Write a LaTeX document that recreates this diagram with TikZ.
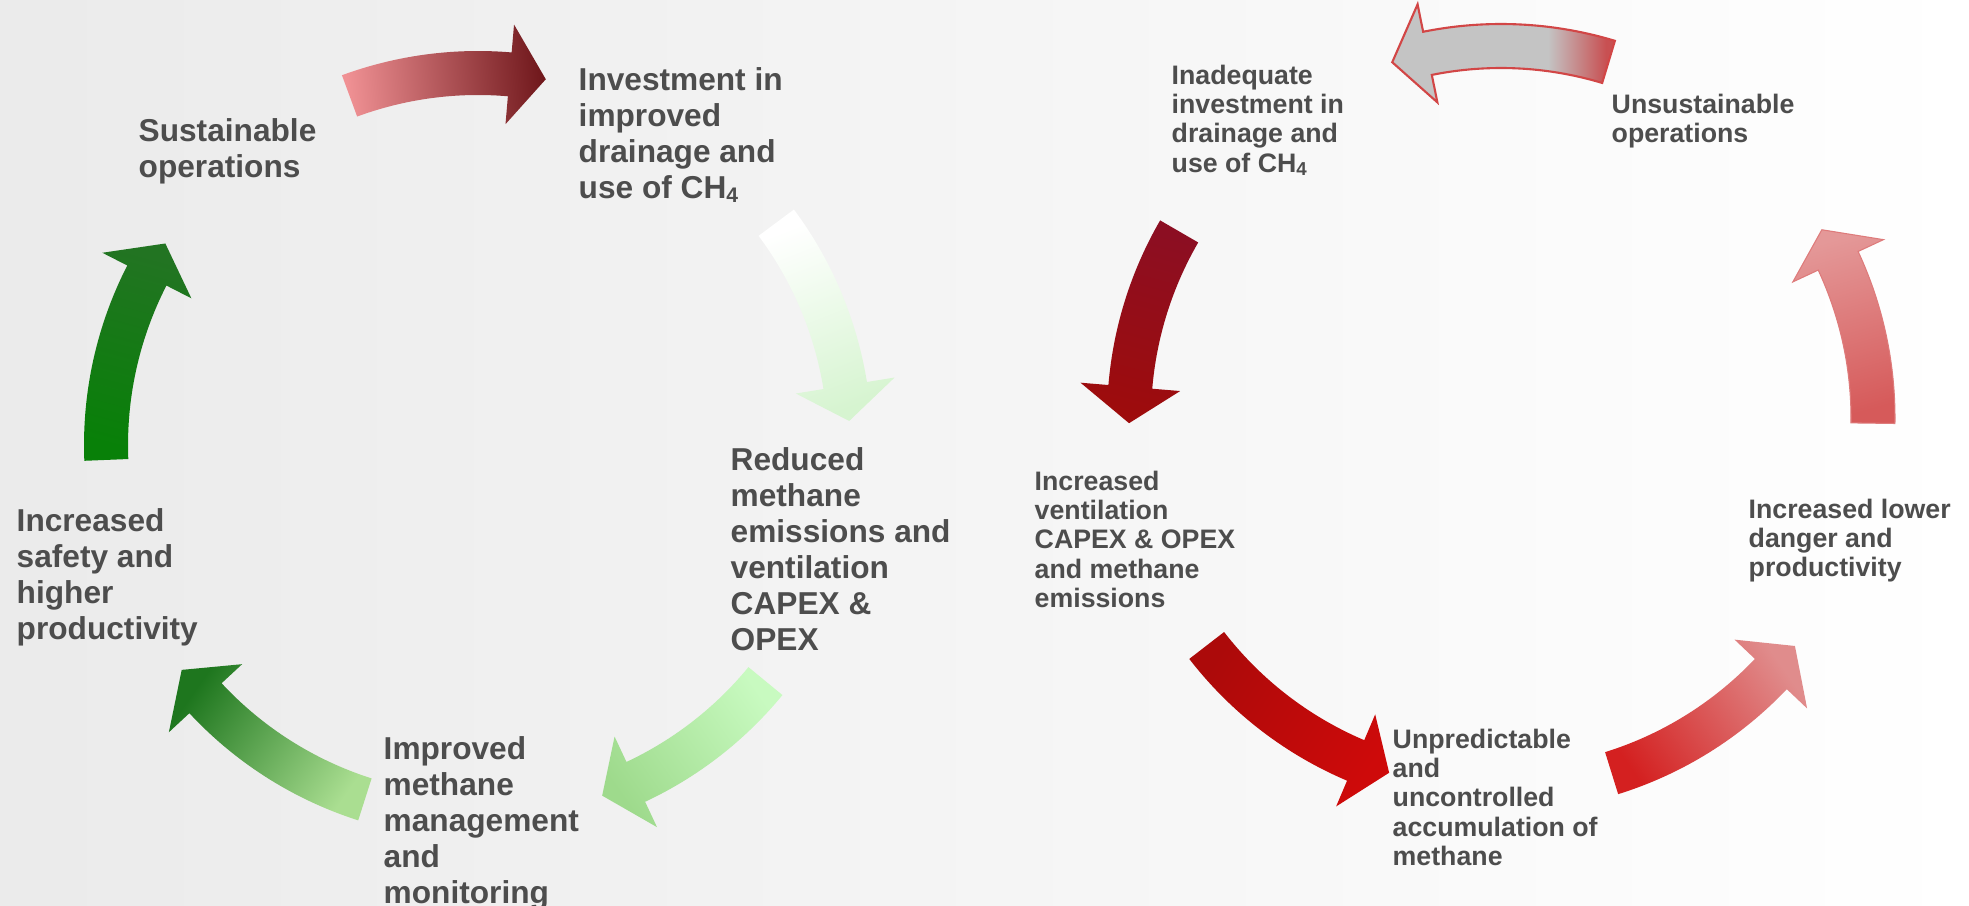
\documentclass[tikz,border=0pt]{standalone}
\usepackage{fontspec}
\setmainfont{Liberation Sans}

\definecolor{textgray}{RGB}{77,77,77}
\definecolor{lpink}{RGB}{240,145,148}
\definecolor{ldark}{RGB}{112,24,28}
\definecolor{lpale}{RGB}{214,244,208}
\definecolor{lmint}{RGB}{200,250,192}
\definecolor{lmintb}{RGB}{158,218,140}
\definecolor{llight}{RGB}{170,222,145}
\definecolor{lforest}{RGB}{30,118,30}
\definecolor{lgreen}{RGB}{8,128,8}
\definecolor{lgreenb}{RGB}{34,116,34}
\definecolor{rgray}{RGB}{196,196,196}
\definecolor{rtail}{RGB}{200,80,82}
\definecolor{redline}{RGB}{210,70,70}
\definecolor{rmaroon}{RGB}{140,14,34}
\definecolor{rdark}{RGB}{158,12,12}
\definecolor{rdeep}{RGB}{172,10,10}
\definecolor{rbright}{RGB}{206,10,10}
\definecolor{rred}{RGB}{212,32,32}
\definecolor{rpink}{RGB}{224,140,140}
\definecolor{rsalmon}{RGB}{214,90,90}
\definecolor{rrose}{RGB}{228,152,152}

\pgfdeclarehorizontalshading{grayfade}{100bp}{color(0bp)=(rgray); color(60bp)=(rgray); color(73bp)=(rtail); color(100bp)=(rtail)}

% #1 fill options, #2 tail angle, #3 head base angle, #4 tip angle
\newcommand{\cyclearrow}[4]{%
  \path[#1] (#2:394) arc[start angle=#2,end angle=#3,radius=394]
    -- (#3:422) -- (#4:372) -- (#3:322) -- (#3:350)
    arc[start angle=#3,end angle=#2,radius=350] -- cycle;}

\begin{document}
\begin{tikzpicture}[x=.01cm,y=.01cm,
  cyctext/.style={anchor=north west,inner sep=0pt,align=left,text=textgray,
    font=\fontsize{9}{10.24}\selectfont\bfseries},
  smalltext/.style={cyctext,font=\fontsize{7.6}{8.34}\selectfont\bfseries}]
  \useasboundingbox (0,0) rectangle (1969,906);
  \shade[left color=black!8,right color=white] (0,0) rectangle (1969,906);
  \coordinate (lc) at (478,461);
  \coordinate (rc) at (1501,488);

  % virtuous cycle
  \begin{scope}[shift={(lc)}]
    \cyclearrow{left color=lpink,right color=ldark,shading angle=95}{110.2}{85.1}{79.5}
    \cyclearrow{left color=white,right color=lpale,shading angle=21.5}{36.7}{9.2}{3.7}
    \cyclearrow{left color=lmint,right color=lmintb,shading angle=305}{-39.4}{-64.9}{-70.5}
    \cyclearrow{left color=llight,middle color=lforest,right color=lforest,shading angle=234.8}{-107.7}{-137.1}{-142.8}
    \cyclearrow{left color=lgreen,right color=lgreenb,shading angle=165}{182.3}{152.9}{147.2}
  \end{scope}

  % vicious cycle
  \begin{scope}[shift={(rc)}]
    \cyclearrow{shade,shading=grayfade,shading angle=0,draw=redline,line width=.6pt}{73.2}{101.4}{107}
    \cyclearrow{left color=rmaroon,right color=rdark,shading angle=345}{149.9}{175.2}{180.8}
    \cyclearrow{left color=rdeep,right color=rbright,shading angle=56.4}{217.7}{247}{252.5}
    \cyclearrow{left color=rred,right color=rpink,shading angle=125}{287.3}{316.5}{322.2}
    \cyclearrow{left color=rsalmon,right color=rrose,shading angle=195.8,draw=rsalmon!80,line width=.3pt}{359.2}{385}{390.4}
  \end{scope}

  \node[cyctext] (sust) at (138,788) {Sustainable\\operations};
  \node[cyctext] (invest) at (578,839) {Investment in\\improved\\drainage and\\use of CH\textsubscript{4}};
  \node[cyctext] (reduced) at (730,459) {Reduced\\methane\\emissions and\\ventilation\\CAPEX \&\\OPEX};
  \node[cyctext] (improved) at (383,170) {Improved\\methane\\management\\and\\monitoring};
  \node[cyctext] (safety) at (16,398) {Increased\\safety and\\higher\\productivity};

  \node[smalltext] (inadequate) at (1171,842) {Inadequate\\investment in\\drainage and\\use of CH\textsubscript{4}};
  \node[smalltext] (unsust) at (1611,813) {Unsustainable\\operations};
  \node[smalltext] (incvent) at (1034,436) {Increased\\ventilation\\CAPEX \& OPEX\\and methane\\emissions};
  \node[smalltext] (unpred) at (1392,178) {Unpredictable\\and\\uncontrolled\\accumulation of\\methane};
  \node[smalltext] (inclower) at (1748,408) {Increased lower\\danger and\\productivity};
\end{tikzpicture}
\end{document}
